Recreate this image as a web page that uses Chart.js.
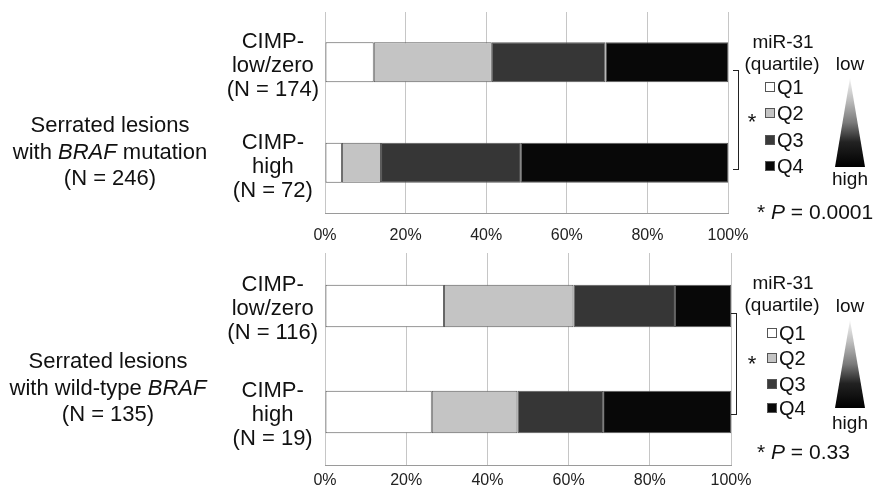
<!DOCTYPE html>
<html><head><meta charset="utf-8">
<script src="https://cdn.jsdelivr.net/npm/chart.js@4.4.1/dist/chart.umd.min.js"></script>
<style>
html,body{margin:0;padding:0;background:#fff;}
#wrap{position:relative;width:880px;height:493px;overflow:hidden;font-family:"Liberation Sans",Arial,sans-serif;color:#111;background:#fff;}
.abs{position:absolute;white-space:nowrap;}
.grp{position:absolute;width:220px;text-align:center;font-size:22px;line-height:26.5px;}
.lg{position:absolute;font-size:19px;line-height:20px;transform:translate(-50%,-50%);}
.q{position:absolute;font-size:20px;line-height:20px;transform:translateY(-50%);}
.sq{position:absolute;width:8px;height:8px;border:1px solid #555;transform:translateY(-50%);}
.tri{position:absolute;clip-path:polygon(50% 0,100% 100%,0 100%);background:linear-gradient(to bottom,#f4f4f4 0%,#bdbdbd 25%,#7a7a7a 50%,#222 72%,#000 100%);}
.br{position:absolute;border:1.5px solid #222;border-left:none;width:5px;}
.star{position:absolute;font-size:22px;line-height:22px;transform:translate(-50%,-50%);}
.pv{position:absolute;font-size:21px;line-height:22px;transform:translateY(-50%);}
</style></head><body>
<div id="wrap">
  <canvas id="c1" class="abs" style="left:200px;top:0px" width="560" height="250"></canvas>
  <canvas id="c2" class="abs" style="left:200px;top:240px" width="564" height="262"></canvas>

  <div class="grp" style="left:0px;top:112px">Serrated lesions<br>with <i>BRAF</i> mutation<br>(N = 246)</div>
  <div class="grp" style="left:-2px;top:348px">Serrated lesions<br>with wild-type <i>BRAF</i><br>(N = 135)</div>

  <!-- top legend -->
  <div class="lg" style="left:783px;top:42px">miR-31</div>
  <div class="lg" style="left:782px;top:64px">(quartile)</div>
  <div class="sq" style="left:765px;top:87px;background:#fff"></div><div class="q" style="left:777px;top:87px">Q1</div>
  <div class="sq" style="left:765px;top:113px;background:#c4c4c4"></div><div class="q" style="left:777px;top:113px">Q2</div>
  <div class="sq" style="left:765px;top:140px;background:#3a3a3a"></div><div class="q" style="left:777px;top:140px">Q3</div>
  <div class="sq" style="left:765px;top:166px;background:#080808"></div><div class="q" style="left:777px;top:166px">Q4</div>
  <div class="lg" style="left:850px;top:64px">low</div>
  <div class="tri" style="left:835px;top:78px;width:30px;height:89px"></div>
  <div class="lg" style="left:850px;top:179px">high</div>
  <div class="br" style="left:733px;top:70px;height:98px"></div>
  <div class="star" style="left:752px;top:122px">*</div>
  <div class="pv" style="left:757px;top:212px">* <i>P</i> = 0.0001</div>

  <!-- bottom legend -->
  <div class="lg" style="left:783px;top:283px">miR-31</div>
  <div class="lg" style="left:782px;top:305px">(quartile)</div>
  <div class="sq" style="left:767px;top:333px;background:#fff"></div><div class="q" style="left:779px;top:333px">Q1</div>
  <div class="sq" style="left:767px;top:358px;background:#c4c4c4"></div><div class="q" style="left:779px;top:358px">Q2</div>
  <div class="sq" style="left:767px;top:384px;background:#3a3a3a"></div><div class="q" style="left:779px;top:384px">Q3</div>
  <div class="sq" style="left:767px;top:408px;background:#080808"></div><div class="q" style="left:779px;top:408px">Q4</div>
  <div class="lg" style="left:850px;top:306px">low</div>
  <div class="tri" style="left:835px;top:320px;width:30px;height:88px"></div>
  <div class="lg" style="left:850px;top:423px">high</div>
  <div class="br" style="left:731px;top:313px;height:100px"></div>
  <div class="star" style="left:752px;top:364px">*</div>
  <div class="pv" style="left:757px;top:452px">* <i>P</i> = 0.33</div>
</div>
<script>
// ---- data ----
const quartiles = ['Q1', 'Q2', 'Q3', 'Q4'];
const quartileColors = ['#ffffff', '#c4c4c4', '#363636', '#080808'];
const xTickValues = [0, 20, 40, 60, 80, 100];

const brafMutCategories = [['CIMP-', 'low/zero', '(N = 174)'], ['CIMP-', 'high', '(N = 72)']];
const brafMutQ1 = [12.1, 4.2];
const brafMutQ2 = [29.3, 9.7];
const brafMutQ3 = [28.2, 34.7];
const brafMutQ4 = [30.4, 51.4];

const brafWtCategories = [['CIMP-', 'low/zero', '(N = 116)'], ['CIMP-', 'high', '(N = 19)']];
const brafWtQ1 = [29.3, 26.3];
const brafWtQ2 = [31.9, 21.1];
const brafWtQ3 = [25.0, 21.1];
const brafWtQ4 = [13.8, 31.5];

function makeChart(id, categories, series, opts) {
  const datasets = series.map((vals, i) => ({
    label: quartiles[i],
    data: vals,
    backgroundColor: quartileColors[i],
    borderColor: '#5a5a5a',
    borderWidth: 1,
    borderSkipped: false,
    barPercentage: 0.4,
    categoryPercentage: 1.0
  }));
  return new Chart(document.getElementById(id), {
    type: 'bar',
    data: { labels: categories, datasets },
    options: {
      indexAxis: 'y',
      responsive: false,
      animation: false,
      layout: { padding: { left: 0, right: opts.padRight, top: opts.padTop, bottom: 0 } },
      plugins: { legend: { display: false }, tooltip: { enabled: false } },
      scales: {
        x: {
          stacked: true, min: 0, max: 100,
          afterBuildTicks: s => { s.ticks = xTickValues.map(v => ({ value: v })); },
          afterFit: s => { s.height = opts.xAxisH; s.paddingLeft = 0; s.paddingRight = 0; },
          ticks: { callback: v => v + '%', color: '#222', font: { family: 'Liberation Sans', size: 16 }, padding: opts.tickPad, maxRotation: 0 },
          grid: { color: '#c6c6c6', lineWidth: 1, drawTicks: false },
          border: { color: '#9a9a9a' }
        },
        y: {
          stacked: true,
          afterFit: s => { s.width = 125; s.paddingTop = 0; s.paddingBottom = 0; },
          ticks: { color: '#111', crossAlign: 'center', padding: opts.yPad, labelOffset: opts.labelOffset, font: { family: 'Liberation Sans', size: 22, lineHeight: 1.09 } },
          grid: { display: false, drawTicks: false },
          border: { display: false }
        }
      }
    }
  });
}

makeChart('c1', brafMutCategories, [brafMutQ1, brafMutQ2, brafMutQ3, brafMutQ4],
  { padRight: 32, padTop: 12, xAxisH: 37, tickPad: 13, yPad: 6, labelOffset: 4 });
makeChart('c2', brafWtCategories, [brafWtQ1, brafWtQ2, brafWtQ3, brafWtQ4],
  { padRight: 33, padTop: 13, xAxisH: 37, tickPad: 6, yPad: 7, labelOffset: 3 });
</script>
</body></html>
